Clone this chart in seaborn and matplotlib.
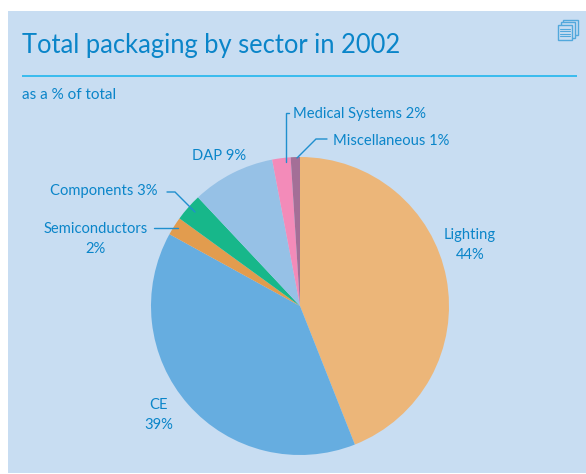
import matplotlib
matplotlib.use("Agg")
import matplotlib.pyplot as plt
from matplotlib.patches import Rectangle
import seaborn as sns

sectors = ["Lighting", "CE", "Semiconductors", "Components", "DAP", "Medical Systems", "Miscellaneous"]
shares = [44, 39, 2, 3, 9, 2, 1]
slice_colors = ["#ECB679", "#66ADE0", "#E29C4E", "#17B78A", "#96C1E6", "#F38BB9", "#A46F97"]

PANEL = "#C8DDF2"
INK = "#0A85C9"
LEADER = "#1F8FCE"
RULE = "#12B2EE"
ICON = "#52A8DC"

sns.set_theme(style="white")
plt.rcParams["font.family"] = ["Lato", "DejaVu Sans"]

W, H = 586, 474
fig = plt.figure(figsize=(W / 100, H / 100), dpi=100, facecolor="white")

# Full-figure layer measured in pixels, y running downwards
bg = fig.add_axes([0, 0, 1, 1], zorder=0)
bg.set_xlim(0, W)
bg.set_ylim(H, 0)
bg.axis("off")
bg.add_patch(Rectangle((8, 11), W - 8, H - 12, fc=PANEL, ec="none"))
bg.plot([22, 577], [76, 76], color=RULE, lw=1.1, solid_capstyle="butt")
bg.text(22, 45, "Total packaging by sector in 2002", color=INK, fontsize=18.4, va="center", ha="left")
bg.text(22, 95, "as a % of total", color=INK, fontsize=11, va="center", ha="left")

# Stacked-pages icon in the panel corner
for x0, y0 in ((563, 19.5), (560.5, 22), (557.5, 24.5)):
    bg.add_patch(Rectangle((x0, y0), 14.5, 15.5, fc=PANEL, ec=ICON, lw=1.0))
for y in (28.5, 31, 33.5, 36):
    bg.plot([560, 570], [y, y], color=ICON, lw=0.8)

# The pie itself
pie_ax = fig.add_axes([151 / W, (H - 455) / H, 298 / W, 298 / H], zorder=1)
pie_ax.pie(shares, colors=sns.color_palette(slice_colors), startangle=90, counterclock=False,
           radius=1, wedgeprops={"linewidth": 0})
pie_ax.set_xlim(-1, 1)
pie_ax.set_ylim(-1, 1)

# Text labels and their leaders
top = fig.add_axes([0, 0, 1, 1], zorder=2)
top.set_xlim(0, W)
top.set_ylim(H, 0)
top.axis("off")
top.patch.set_alpha(0)

labels = [
    (470, 245, f"{sectors[0]}\n{shares[0]}%", "center"),
    (159, 415, f"{sectors[1]}\n{shares[1]}%", "center"),
    (96, 239, f"{sectors[2]}\n{shares[2]}%", "center"),
    (50, 191, f"{sectors[3]} {shares[3]}%", "left"),
    (192, 156, f"{sectors[4]} {shares[4]}%", "left"),
    (293, 114, f"{sectors[5]} {shares[5]}%", "left"),
    (333, 141, f"{sectors[6]} {shares[6]}%", "left"),
]
for x, y, s, ha in labels:
    top.text(x, y, s, color=INK, fontsize=10.6, ha=ha, va="center", linespacing=1.58, multialignment="center")

leaders = [
    ([154, 178], [228, 228]),
    ([167, 175, 195], [192, 192, 212]),
    ([289, 285.5, 285.5], [112.5, 112.5, 162]),
    ([327, 316, 297], [139, 139, 158]),
]
for xs, ys in leaders:
    top.plot(xs, ys, color=LEADER, lw=1.0, solid_joinstyle="miter")

fig.savefig("out.png", dpi=100, facecolor="white")
